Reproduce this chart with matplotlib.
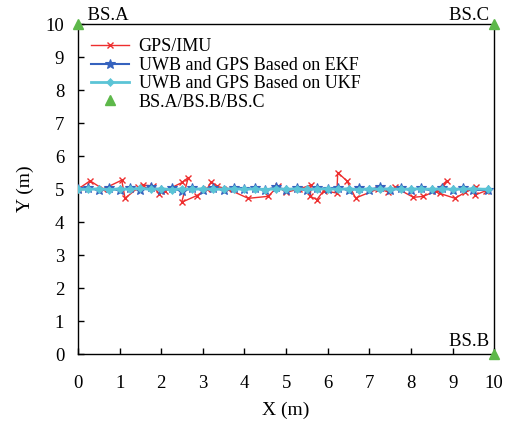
import matplotlib
matplotlib.use("Agg")
import matplotlib.pyplot as plt

# GPS/IMU trajectory
gps_x = [0.0, 0.29, 0.6, 1.05, 1.13, 1.45, 1.55, 1.8, 1.95, 2.1, 2.5, 2.65, 2.49, 2.85, 3.1, 3.2,
         3.35, 3.6, 4.09, 4.57, 4.8, 5.0, 5.3, 5.6, 5.58, 5.74, 5.9, 6.22, 6.24, 6.46, 6.67, 7.22,
         7.46, 7.62, 8.06, 8.3, 8.6, 8.86, 8.69, 9.06, 9.3, 9.57, 9.54, 9.8]
gps_y = [5.0, 5.25, 5.0, 5.27, 4.72, 5.05, 5.12, 5.1, 4.85, 4.95, 5.2, 5.35, 4.6, 4.8, 5.0, 5.22,
         5.08, 5.0, 4.72, 4.78, 5.08, 4.9, 5.0, 5.12, 4.78, 4.68, 4.95, 4.88, 5.5, 5.25, 4.73, 5.01,
         4.91, 5.05, 4.75, 4.78, 4.95, 5.25, 4.87, 4.72, 4.9, 5.05, 4.82, 4.95]

# EKF trajectory
ekf_x = [0.0, 0.25, 0.5, 0.75, 1.0, 1.25, 1.5, 1.75, 2.0, 2.25, 2.5, 2.75, 3.0, 3.25, 3.5, 3.75,
         4.0, 4.25, 4.5, 4.75, 5.0, 5.25, 5.5, 5.75, 6.0, 6.25, 6.5, 6.75, 7.0, 7.25, 7.5, 7.75,
         8.0, 8.25, 8.5, 8.75, 9.0, 9.25, 9.5, 9.85]
ekf_y = [5.0, 5.03, 4.97, 5.02, 4.96, 5.04, 4.98, 5.05, 4.97, 5.02, 4.95, 5.03, 4.98, 5.04, 4.97,
         5.02, 4.99, 5.03, 4.97, 5.05, 4.98, 5.02, 4.96, 5.03, 4.99, 5.04, 4.97, 5.02, 4.98, 5.05,
         4.97, 5.03, 4.98, 5.02, 4.96, 5.04, 4.98, 5.03, 4.97, 4.98]

# UKF trajectory
ukf_x = [0.0, 0.25, 0.5, 0.75, 1.0, 1.25, 1.5, 1.75, 2.0, 2.25, 2.5, 2.75, 3.0, 3.25, 3.5, 3.75,
         4.0, 4.25, 4.5, 4.75, 5.0, 5.25, 5.5, 5.75, 6.0, 6.25, 6.5, 6.75, 7.0, 7.25, 7.5, 7.75,
         8.0, 8.25, 8.5, 8.75, 9.0, 9.25, 9.5, 9.85]
ukf_y = [5.0, 4.99, 5.01, 4.98, 5.01, 4.99, 5.02, 4.99, 5.01, 4.98, 5.01, 4.99, 5.01, 4.99, 5.0,
         5.01, 4.99, 5.01, 4.98, 5.01, 4.99, 5.01, 4.99, 5.0, 5.01, 4.99, 5.01, 4.98, 5.01, 4.99,
         5.01, 4.99, 5.0, 5.01, 4.99, 5.01, 4.99, 5.0, 5.01, 4.99]

# Base stations
bs_x = [0, 10, 10]
bs_y = [10, 10, 0]
bs_names = ["BS.A", "BS.C", "BS.B"]

xticks = list(range(0, 11))
yticks = list(range(0, 11))

plt.rcParams['font.family'] = ['Liberation Serif', 'DejaVu Serif']

fig = plt.figure(figsize=(5.10, 4.23), dpi=100)
ax = fig.add_axes([0.153, 0.163, 0.816, 0.780])

ax.plot(gps_x, gps_y, color='#EE2E2E', lw=1.0, marker='x', ms=4.5, mew=1.0,
        label='GPS/IMU', zorder=3)
ax.plot(ekf_x, ekf_y, color='#3562BE', lw=1.5, marker='*', ms=7, mew=0.8,
        label='UWB and GPS Based on EKF', zorder=4)
ax.plot(ukf_x, ukf_y, color='#5BC4D6', lw=2.0, marker='D', ms=4.3, mew=0.5,
        label='UWB and GPS Based on UKF', zorder=5)
ax.plot(bs_x, bs_y, linestyle='none', marker='^', color='#5DB84A', ms=7,
        label='BS.A/BS.B/BS.C', clip_on=False, zorder=6)

ax.text(0, 10, "  " + bs_names[0], ha='left', va='bottom', fontsize=13.5)
ax.text(10, 10, bs_names[1] + " ", ha='right', va='bottom', fontsize=13.5)
ax.text(10, 0.12, bs_names[2] + " ", ha='right', va='bottom', fontsize=13.5)

ax.set_xlim(0, 10)
ax.set_ylim(0, 10)
ax.set_xticks(xticks)
ax.set_yticks(yticks)
ax.tick_params(direction='in', length=4, width=1, labelsize=13.5, top=False, right=False)
ax.tick_params(axis='x', pad=15)
ax.tick_params(axis='y', pad=10)
for s in ax.spines.values():
    s.set_linewidth(1.0)

ax.set_xlabel('X (m)', fontsize=14, labelpad=7)
ax.set_ylabel('Y (m)', fontsize=14, labelpad=8)

leg = ax.legend(loc='upper left', bbox_to_anchor=(0.0, 0.995), frameon=False, fontsize=13,
                handlelength=2.1, handletextpad=0.55, labelspacing=0.08, borderaxespad=0.3)

fig.savefig('out.png', dpi=100)
